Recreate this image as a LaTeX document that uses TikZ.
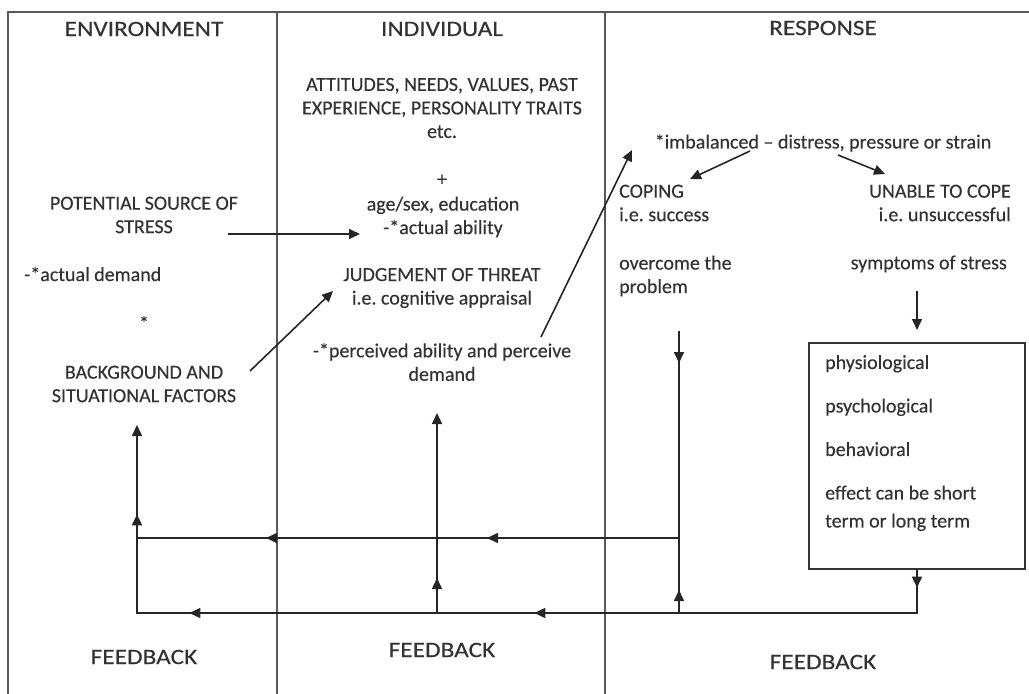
\documentclass[tikz,border=0pt]{standalone}
\usepackage{fontspec}
\setmainfont{Carlito}[FakeBold=0.3]
\newfontfamily\hdrfont{Carlito}[FakeStretch=1.15,FakeBold=0.3]
\usetikzlibrary{arrows.meta,decorations.markings}
\frenchspacing
\begin{document}
\begin{tikzpicture}[x=1pt,y=-1pt,
  frame/.style={draw=black!65,line width=1.4pt},
  conn/.style={color=black!85,line width=1.6pt},
  >={Triangle[length=11pt,width=10pt]},
  tipat/.style={postaction={decorate,decoration={markings,mark=at position #1 with {\arrow{>}}}}},
  hdr/.style={text=black!80,font=\hdrfont\fontsize{22}{26}\selectfont,inner sep=0pt},
  txt/.style={text=black!80,font=\fontsize{20}{23.5}\selectfont,inner sep=0pt,align=center},
  txtl/.style={txt,align=left},
  txtr/.style={txt,align=right},
  symbox/.style={draw=black!80,line width=1.4pt,minimum width=216pt,minimum height=226pt,inner sep=0pt}
]
\useasboundingbox (0,0) rectangle (1029,694);
% frame
\coordinate (tl) at (8,12); \coordinate (tr) at (1029,12); \coordinate (bl) at (8,694);
\coordinate (c1t) at (277,12); \coordinate (c1b) at (277,694);
\coordinate (c2t) at (605,12); \coordinate (c2b) at (605,694);
\draw[frame] (bl) -- (tl) -- (tr);
\draw[frame] (c1t) -- (c1b);
\draw[frame] (c2t) -- (c2b);
% headings
\node[hdr] (henv) at (144,29) {ENVIRONMENT};
\node[hdr] (hind) at (442,29) {INDIVIDUAL};
\node[hdr] (hres) at (823,28) {RESPONSE};
% individual
\node[txt] (attit) at (442,108) {ATTITUDES, NEEDS, VALUES, PAST\\EXPERIENCE, PERSONALITY TRAITS\\etc.};
\node[txt] (plus) at (442,180) {+};
\node[txt] (age) at (443,217) {age/sex, education\\-*actual ability};
\node[txt] (judge) at (442,288) {JUDGEMENT OF THREAT\\i.e. cognitive appraisal};
\node[txt] (perc) at (442,362) {-*perceived ability and perceive\\demand};
% environment
\node[txt] (pot) at (144,215) {POTENTIAL SOURCE OF\\STRESS};
\node[txtl,anchor=west] (actd) at (24,274) {-*actual demand};
\node[txt] (star) at (144,323) {*};
\node[txt] (back) at (144,384) {BACKGROUND AND\\SITUATIONAL FACTORS};
% response
\node[txt] (imb) at (823,143) {*imbalanced -- distress, pressure or strain};
\node[txtl,anchor=west] (coping) at (619,203) {COPING\\i.e. success};
\node[txtl,anchor=west] (overc) at (619,276) {overcome the\\problem};
\node[txtr,anchor=east] (unable) at (1011,203) {UNABLE TO COPE\\i.e. unsuccessful};
\node[txtr,anchor=east] (sympt) at (1007,264) {symptoms of stress};
\node[symbox] (box) at (917,456) {};
\node[txtl,anchor=west] (boxtext) at (825,443) {physiological\\[20pt]psychological\\[20pt]behavioral\\[20pt]effect can be short\\[4.5pt]term or long term};
% feedback labels
\node[hdr] (fb1) at (144,657) {FEEDBACK};
\node[hdr] (fb2) at (442,650) {FEEDBACK};
\node[hdr] (fb3) at (823,662) {FEEDBACK};
% connectors
\coordinate (s1) at (228,234); \coordinate (s2) at (360,234);
\draw[conn,->] (s1) -- (s2);
\coordinate (b1) at (250,371); \coordinate (b2) at (333,291);
\draw[conn,->] (b1) -- (b2);
\coordinate (p1) at (541,337); \coordinate (p2) at (632,150);
\draw[conn,->] (p1) -- (p2);
\coordinate (i1) at (750,151); \coordinate (i2) at (690,179);
\draw[conn,->] (i1) -- (i2);
\coordinate (i3) at (838,155); \coordinate (i4) at (885,174);
\draw[conn,->] (i3) -- (i4);
\coordinate (y1) at (917,291); \coordinate (y2) at (917,330);
\draw[conn,->] (y1) -- (y2);
% feedback loops
\coordinate (f1) at (917,613); \coordinate (f2) at (137,613); \coordinate (f3) at (137,425);
\draw[conn,->,tipat=18pt,tipat=426pt,tipat=771pt,tipat=922pt] (box.south) -- (f1) -- (f2) -- (f3);
\coordinate (ov1) at (679,331); \coordinate (ov2) at (679,538); \coordinate (ov3) at (137,538);
\draw[conn,tipat=32pt,tipat=399pt,tipat=620pt] (ov1) -- (ov2) -- (ov3);
\coordinate (f4) at (679,613);
\draw[conn,tipat=23pt] (f4) -- (ov2);
\coordinate (f5) at (437,613); \coordinate (m2) at (437,413);
\draw[conn,->,tipat=35pt] (f5) -- (m2);
\end{tikzpicture}
\end{document}
